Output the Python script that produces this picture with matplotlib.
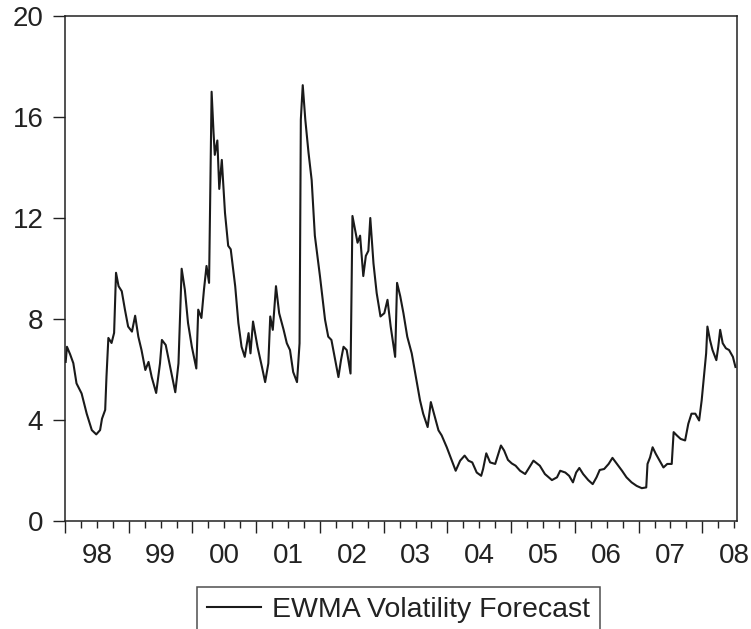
import numpy as np
import matplotlib
matplotlib.use('Agg')
import matplotlib.pyplot as plt

plt.rcParams['font.family'] = ['Liberation Sans', 'DejaVu Sans']

# EWMA volatility forecast, decimal year vs. volatility (%)
dates = [
    1998.01, 1998.03, 1998.08, 1998.13, 1998.18, 1998.26, 1998.34, 1998.42, 1998.49, 1998.55,
    1998.58, 1998.63, 1998.65, 1998.68, 1998.73, 1998.77, 1998.80, 1998.84, 1998.89, 1998.94,
    1998.99, 1999.05, 1999.10, 1999.15, 1999.20, 1999.26, 1999.31, 1999.36, 1999.43, 1999.49,
    1999.52, 1999.58, 1999.65, 1999.73, 1999.78, 1999.83, 1999.88, 1999.93, 1999.99, 2000.06,
    2000.09, 2000.14, 2000.18, 2000.22, 2000.26, 2000.30, 2000.33, 2000.35, 2000.39, 2000.42,
    2000.46, 2000.51, 2000.56, 2000.60, 2000.67, 2000.72, 2000.77, 2000.82, 2000.88, 2000.91,
    2000.95, 2001.02, 2001.09, 2001.14, 2001.19, 2001.22, 2001.26, 2001.31, 2001.36, 2001.43,
    2001.48, 2001.53, 2001.58, 2001.64, 2001.68, 2001.70, 2001.73, 2001.77, 2001.82, 2001.87,
    2001.92, 2002.00, 2002.08, 2002.13, 2002.18, 2002.24, 2002.29, 2002.33, 2002.37, 2002.42,
    2002.48, 2002.51, 2002.55, 2002.59, 2002.63, 2002.68, 2002.72, 2002.76, 2002.79, 2002.84,
    2002.89, 2002.95, 2003.01, 2003.06, 2003.11, 2003.18, 2003.21, 2003.26, 2003.31, 2003.37,
    2003.44, 2003.52, 2003.57, 2003.62, 2003.69, 2003.74, 2003.79, 2003.86, 2003.91, 2003.99,
    2004.07, 2004.13, 2004.20, 2004.27, 2004.33, 2004.39, 2004.46, 2004.53, 2004.56, 2004.61,
    2004.67, 2004.75, 2004.84, 2004.89, 2004.95, 2005.01, 2005.07, 2005.14, 2005.22, 2005.27,
    2005.35, 2005.45, 2005.53, 2005.64, 2005.72, 2005.77, 2005.85, 2005.91, 2005.97, 2006.02,
    2006.07, 2006.13, 2006.21, 2006.28, 2006.34, 2006.39, 2006.46, 2006.53, 2006.59, 2006.66,
    2006.74, 2006.81, 2006.89, 2006.97, 2007.05, 2007.12, 2007.14, 2007.18, 2007.22, 2007.27,
    2007.33, 2007.39, 2007.45, 2007.52, 2007.55, 2007.60, 2007.66, 2007.73, 2007.78, 2007.83,
    2007.89, 2007.95, 2007.99, 2008.03, 2008.06, 2008.08, 2008.12, 2008.16, 2008.22, 2008.25,
    2008.28, 2008.32, 2008.37, 2008.42, 2008.48, 2008.52,
]
ewma_vol = [
    6.30, 6.90, 6.60, 6.25, 5.45, 5.05, 4.25, 3.60, 3.43, 3.60,
    4.05, 4.40, 5.70, 7.25, 7.05, 7.45, 9.83, 9.30, 9.10, 8.37,
    7.70, 7.50, 8.13, 7.30, 6.77, 5.98, 6.30, 5.70, 5.07, 6.24,
    7.17, 6.97, 6.10, 5.10, 6.24, 9.99, 9.16, 7.84, 6.90, 6.04,
    8.37, 8.04, 9.16, 10.10, 9.43, 17.00, 15.40, 14.50, 15.07, 13.15,
    14.30, 12.20, 10.90, 10.76, 9.30, 7.84, 6.90, 6.50, 7.44, 6.64,
    7.90, 6.90, 6.10, 5.50, 6.24, 8.10, 7.57, 9.30, 8.23, 7.57,
    7.04, 6.77, 5.90, 5.50, 7.04, 15.90, 17.26, 15.90, 14.60, 13.50,
    11.30, 9.70, 7.97, 7.30, 7.17, 6.37, 5.70, 6.37, 6.90, 6.77,
    5.84, 12.08, 11.55, 11.02, 11.30, 9.70, 10.50, 10.70, 12.00, 10.20,
    9.03, 8.10, 8.23, 8.76, 7.70, 6.50, 9.43, 8.90, 8.23, 7.30,
    6.64, 5.50, 4.78, 4.25, 3.72, 4.71, 4.25, 3.59, 3.39, 2.92,
    2.39, 1.99, 2.39, 2.59, 2.39, 2.32, 1.92, 1.79, 2.06, 2.68,
    2.32, 2.26, 2.99, 2.79, 2.42, 2.28, 2.19, 1.99, 1.86, 2.06,
    2.39, 2.19, 1.86, 1.62, 1.73, 1.99, 1.92, 1.79, 1.53, 1.92,
    2.10, 1.86, 1.62, 1.46, 1.73, 2.02, 2.06, 2.26, 2.50, 2.26,
    1.99, 1.73, 1.53, 1.39, 1.30, 1.33, 2.26, 2.52, 2.92, 2.66,
    2.39, 2.12, 2.26, 2.26, 3.52, 3.39, 3.25, 3.19, 3.85, 4.25,
    4.25, 3.98, 4.78, 5.84, 6.64, 7.70, 7.17, 6.77, 6.37, 6.90,
    7.57, 7.04, 6.84, 6.77, 6.50, 6.10,
]

years = np.arange(1998, 2009)
year_labels = ['98', '99', '00', '01', '02', '03', '04', '05', '06', '07', '08']
y_ticks = [0, 4, 8, 12, 16, 20]

ink = '#222222'

fig = plt.figure(figsize=(7.51, 6.29), dpi=100)
ax = fig.add_axes([0.0866, 0.1717, 0.8944, 0.8029])

ax.plot(dates, ewma_vol, color='#1a1a1a', linewidth=1.5, label='EWMA Volatility Forecast')

ax.set_xlim(1998.0, 2008.54)
ax.set_ylim(0, 20)

for side in ['left', 'right', 'top', 'bottom']:
    ax.spines[side].set_linewidth(1.1)
    ax.spines[side].set_color(ink)

ax.set_yticks(y_ticks)
ax.tick_params(axis='y', direction='out', length=8.6, width=1.0, colors=ink,
               labelsize=20, pad=7)

# year boundaries long, quarters short; labels sit mid-year
ax.set_xticks(years)
ax.set_xticklabels([])
ax.set_xticks(np.arange(1998, 2008.6, 0.25), minor=True)
ax.tick_params(axis='x', which='major', direction='out', length=8.6, width=1.0, colors=ink)
ax.tick_params(axis='x', which='minor', direction='out', length=5.0, width=1.0, colors=ink)

for yr, lab in zip(years, year_labels):
    ax.annotate(lab, xy=(yr + 0.5, 0), xycoords=('data', 'axes fraction'),
                xytext=(0, -22), textcoords='offset pixels',
                ha='center', va='top', fontsize=20, color=ink, annotation_clip=False)

leg = fig.legend(loc='upper center', bbox_to_anchor=(0.5306, 0.0668),
                 fontsize=20.5, frameon=True, fancybox=False, shadow=False,
                 borderpad=0.35, handlelength=1.9, handletextpad=0.36,
                 borderaxespad=0)
leg.get_frame().set_edgecolor(ink)
leg.get_frame().set_linewidth(1.1)
for t in leg.get_texts():
    t.set_color(ink)

fig.savefig('out.png', dpi=100)
